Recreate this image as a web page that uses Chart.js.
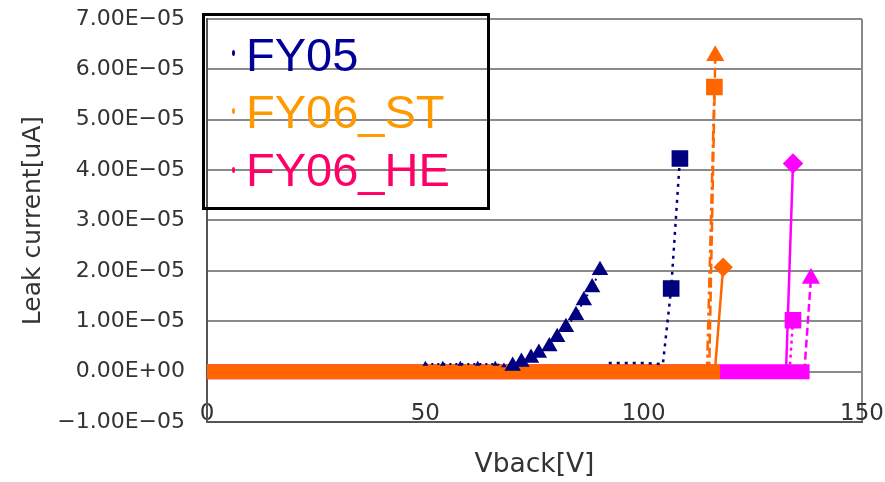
<!DOCTYPE html>
<html>
<head>
<meta charset="utf-8">
<script src="https://cdn.jsdelivr.net/npm/chart.js@4.4.1/dist/chart.umd.min.js"></script>
<style>
  body { margin: 0; background: #fff; }
  #wrap { position: relative; width: 885px; height: 482px; }
  #legendBox { position: absolute; left: 202px; top: 13px; width: 282px; height: 191px; border: 3.5px solid #000; }
  .row { position: absolute; left: 246px; font: 47px "Liberation Sans", Arial, sans-serif; line-height: 58px; white-space: nowrap; }
  .dot { position: absolute; left: 232px; width: 3px; height: 6px; border-radius: 50%; }
</style>
</head>
<body>
<div id="wrap">
  <canvas id="chartLeak" width="885" height="482"></canvas>
  <div id="legendBox"></div>
  <span class="dot" style="top:50px;background:#000099"></span>
  <span class="row" style="top:26px;color:#000099">FY05</span>
  <span class="dot" style="top:108px;background:#ff9900"></span>
  <span class="row" style="top:83px;color:#ff9900">FY06_ST</span>
  <span class="dot" style="top:167px;background:#ff0066"></span>
  <span class="row" style="top:141px;color:#ff0066">FY06_HE</span>
</div>
<script>
// eixos
const xTicks = [0, 50, 100, 150];
const xTickLabels = ["0", "50", "100", "150"];
const yTicks = [-1e-5, 0, 1e-5, 2e-5, 3e-5, 4e-5, 5e-5, 6e-5, 7e-5];
const yTickLabels = ["\u22121.00E\u221205", "0.00E+00", "1.00E\u221205", "2.00E\u221205", "3.00E\u221205",
                     "4.00E\u221205", "5.00E\u221205", "6.00E\u221205", "7.00E\u221205"];

// FY05 - amostra com triangulos
const fy05aV = [50, 54, 58, 62, 66, 68, 70, 72, 74.2, 76, 78.4, 80.2, 82.2, 84.5, 86.3, 88.2, 90];
const fy05aI = [0.15e-5, 0.15e-5, 0.15e-5, 0.15e-5, 0.15e-5, 0.12e-5, 0.11e-5, 0.19e-5, 0.27e-5, 0.37e-5,
                0.5e-5, 0.68e-5, 0.88e-5, 1.12e-5, 1.41e-5, 1.67e-5, 2.01e-5];
// FY05 - amostra com quadrados
const fy05bV = [92, 96, 100, 104.4, 106.3, 108.3];
const fy05bI = [0.17e-5, 0.17e-5, 0.17e-5, 0.15e-5, 1.65e-5, 4.23e-5];

// FY06_ST
const stFlatV = [0, 117.5];
const stFlatI = [0, 0];
const stSqV = [114.5, 116.2];
const stSqI = [0, 5.65e-5];
const stTriV = [115, 116.4];
const stTriI = [0, 6.27e-5];
const stDiaV = [116.3, 118.2];
const stDiaI = [0, 2.07e-5];

// FY06_HE
const heFlatV = [0, 138];
const heFlatI = [0, 0];
const heDiaV = [132.6, 134.2];
const heDiaI = [0, 4.13e-5];
const heSqV = [133.4, 134.2];
const heSqI = [0, 1.02e-5];
const heTriV = [136.8, 138.3];
const heTriI = [0, 1.85e-5];

const NAVY = "#000080";
const ORANGE = "#ff6600";
const MAGENTA = "#ff00ff";

function pts(vs, is) {
  return vs.map((v, i) => ({ x: v, y: is[i] }));
}

function serie(vs, is, color, opts) {
  return Object.assign({
    data: pts(vs, is),
    showLine: true,
    borderColor: color,
    backgroundColor: color,
    pointBorderColor: color,
    pointBackgroundColor: color,
    borderWidth: 2.5,
    tension: 0,
    pointRadius: 0,
    clip: false
  }, opts);
}

// so o ultimo ponto leva marcador
const lastOnly = (n, r) => Array.from({ length: n }, (_, i) => (i === n - 1 ? r : 0));

const datasets = [
  serie(fy05aV, fy05aI, NAVY, {
    borderDash: [2, 4], borderWidth: 2,
    pointStyle: "triangle",
    pointRadius: fy05aV.map(v => (v >= 70 ? 7.5 : 1.2))
  }),
  serie(fy05bV, fy05bI, NAVY, {
    borderDash: [3, 5], borderWidth: 2.5,
    pointStyle: "rect",
    pointRadius: fy05bV.map(v => (v > 105 ? 10 : 0))
  }),
  serie(stDiaV, stDiaI, ORANGE, { pointStyle: "rectRot", pointRadius: lastOnly(2, 8) }),
  serie(stTriV, stTriI, ORANGE, { borderDash: [10, 4], pointStyle: "triangle", pointRadius: lastOnly(2, 8) }),
  serie(stSqV, stSqI, ORANGE, { borderDash: [10, 4, 3, 4], pointStyle: "rect", pointRadius: lastOnly(2, 10) }),
  serie(stFlatV, stFlatI, ORANGE, { borderWidth: 15, borderCapStyle: "butt" }),
  serie(heDiaV, heDiaI, MAGENTA, { pointStyle: "rectRot", pointRadius: lastOnly(2, 8.5) }),
  serie(heSqV, heSqI, MAGENTA, { borderDash: [3, 4], pointStyle: "rect", pointRadius: lastOnly(2, 10) }),
  serie(heTriV, heTriI, MAGENTA, { borderDash: [8, 4], pointStyle: "triangle", pointRadius: lastOnly(2, 8) }),
  serie(heFlatV, heFlatI, MAGENTA, { borderWidth: 15, borderCapStyle: "butt" })
];

const textColor = "#333";

new Chart(document.getElementById("chartLeak").getContext("2d"), {
  type: "scatter",
  data: { datasets },
  options: {
    responsive: false,
    animation: false,
    events: [],
    layout: { autoPadding: false, padding: { top: 19, right: 23, left: 0, bottom: 0 } },
    plugins: { legend: { display: false }, tooltip: { enabled: false } },
    scales: {
      x: {
        type: "linear", min: 0, max: 150,
        afterBuildTicks: s => { s.ticks = xTicks.map(v => ({ value: v })); },
        afterFit: s => { s.height = 60; },
        grid: {
          drawTicks: false, lineWidth: 2,
          color: c => (c.tick && c.tick.value === 150 ? "#8a8a8a" : "rgba(0,0,0,0)")
        },
        border: { display: true, color: "#555", width: 2 },
        // mirror: rotulos ficam logo acima da linha do eixo
        ticks: {
          mirror: true, padding: -6, autoSkip: false, maxRotation: 0,
          font: { family: "DejaVu Sans", size: 23 }, color: textColor,
          callback: (v, i) => xTickLabels[i]
        },
        title: {
          display: true, text: "Vback[V]", color: textColor,
          font: { family: "DejaVu Sans", size: 26.5 }, padding: { top: 0, bottom: 1 }
        }
      },
      y: {
        type: "linear", min: -1e-5, max: 7e-5,
        afterBuildTicks: s => { s.ticks = yTicks.map(v => ({ value: v })); },
        // a margem do topo fica so com o padding do layout
        afterFit: s => { s.width = 207; s.paddingTop = 0; s.paddingBottom = 0; },
        grid: { drawTicks: false, lineWidth: 2, color: "#8a8a8a" },
        border: { display: true, color: "#555", width: 2 },
        ticks: {
          padding: 22, font: { family: "DejaVu Sans", size: 22 }, color: textColor,
          callback: (v, i) => yTickLabels[i]
        },
        title: {
          display: true, text: "Leak current[uA]", color: textColor,
          font: { family: "DejaVu Sans", size: 25 }, padding: { top: 18, bottom: 0 }
        }
      }
    }
  }
});
</script>
</body>
</html>
